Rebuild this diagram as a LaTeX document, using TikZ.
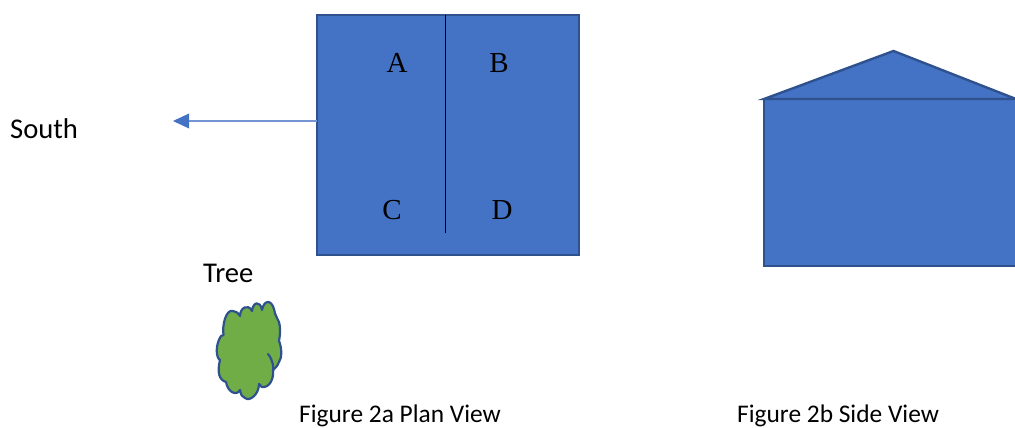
\documentclass[tikz,border=0pt]{standalone}
\usepackage{fontspec}
\setmainfont{Carlito}
\newfontfamily\serifl{Liberation Serif}
\definecolor{fillblue}{HTML}{4472C4}
\definecolor{edgeblue}{HTML}{2F528F}
\definecolor{treegreen}{HTML}{70AD47}
\tikzset{
  x=1pt,y=-1pt,
  shapebox/.style={draw=edgeblue,fill=fillblue,line width=2.4pt,line join=miter,outer sep=0pt},
  caption/.style={inner sep=0pt,font=\fontsize{25.4}{28}\selectfont,anchor=base west,text=black},
  labeltext/.style={inner sep=0pt,font=\fontsize{28.6}{32}\selectfont,anchor=base west,text=black},
  letter/.style={inner sep=0pt,font=\serifl\fontsize{29}{32}\selectfont,anchor=base,text=black},
  arrowline/.style={draw=fillblue!75!white,line width=1.4pt},
}
\begin{document}
\begin{tikzpicture}
\useasboundingbox (0,0) rectangle (1015,428);
% plan
\node[shapebox,minimum width=262pt,minimum height=240pt,inner sep=0pt,anchor=north west] (plan) at (317,15) {};
\coordinate (divtop) at (445.5,15);
\coordinate (divbot) at (445.5,233);
\draw[black,line width=1pt] (divtop) -- (divbot);
\node[letter] (A) at (397,73) {A};
\node[letter] (B) at (499,73) {B};
\node[letter] (C) at (392,219) {C};
\node[letter] (D) at (502,219) {D};
% arrow
\coordinate (arrowstart) at (317,121);
\coordinate (arrowend) at (189,121);
\coordinate (tipa) at (173,121);
\draw[arrowline] (arrowstart) -- (arrowend);
\fill[fillblue] (tipa) -- (189,113.5) -- (189,128.5) -- cycle;
\node[labeltext] (south) at (10,138) {South};
\node[labeltext] (tree) at (203,282) {Tree};
\node[caption] (cap2a) at (299,422.5) {Figure 2a Plan View};
\node[caption] (cap2b) at (737,422.5) {Figure 2b Side View};
% tree
\draw[draw=edgeblue,fill=treegreen,line width=2.2pt,line join=round]
 (223.5,335)
 .. controls (222,325) and (226,309) .. (233,311)
 .. controls (236,311) and (238,313) .. (240,316)
 .. controls (240,308) and (248,303) .. (252,311)
 .. controls (253,302) and (260,300) .. (262,310)
 .. controls (264,300) and (271,299) .. (274,309)
 .. controls (275,314) and (276,316) .. (277,318)
 .. controls (280,322) and (281,330) .. (279,341)
 .. controls (282,348) and (282,358) .. (279,362)
 .. controls (277,367) and (275,368) .. (273,370)
 .. controls (274,378) and (270,388) .. (262,387)
 .. controls (260,387) and (262,386) .. (259,384)
 .. controls (259,394) and (250,402) .. (245,398)
 .. controls (242,397) and (241,395) .. (240,390)
 .. controls (237,396) and (228,393) .. (226,382)
 .. controls (219,380) and (217,372) .. (220,360)
 .. controls (216,358) and (215,345) .. (221,336)
 -- cycle;
\draw[draw=edgeblue,line width=2.2pt,line cap=round] (268,354) .. controls (273,360) and (274,368) .. (273,372);
% side
\node[shapebox,minimum width=265pt,minimum height=167pt,inner sep=0pt,anchor=north west] (side) at (764,99) {};
\draw[shapebox] (764,99) -- (893.5,51) -- (1016,99) -- cycle;
\end{tikzpicture}
\end{document}
